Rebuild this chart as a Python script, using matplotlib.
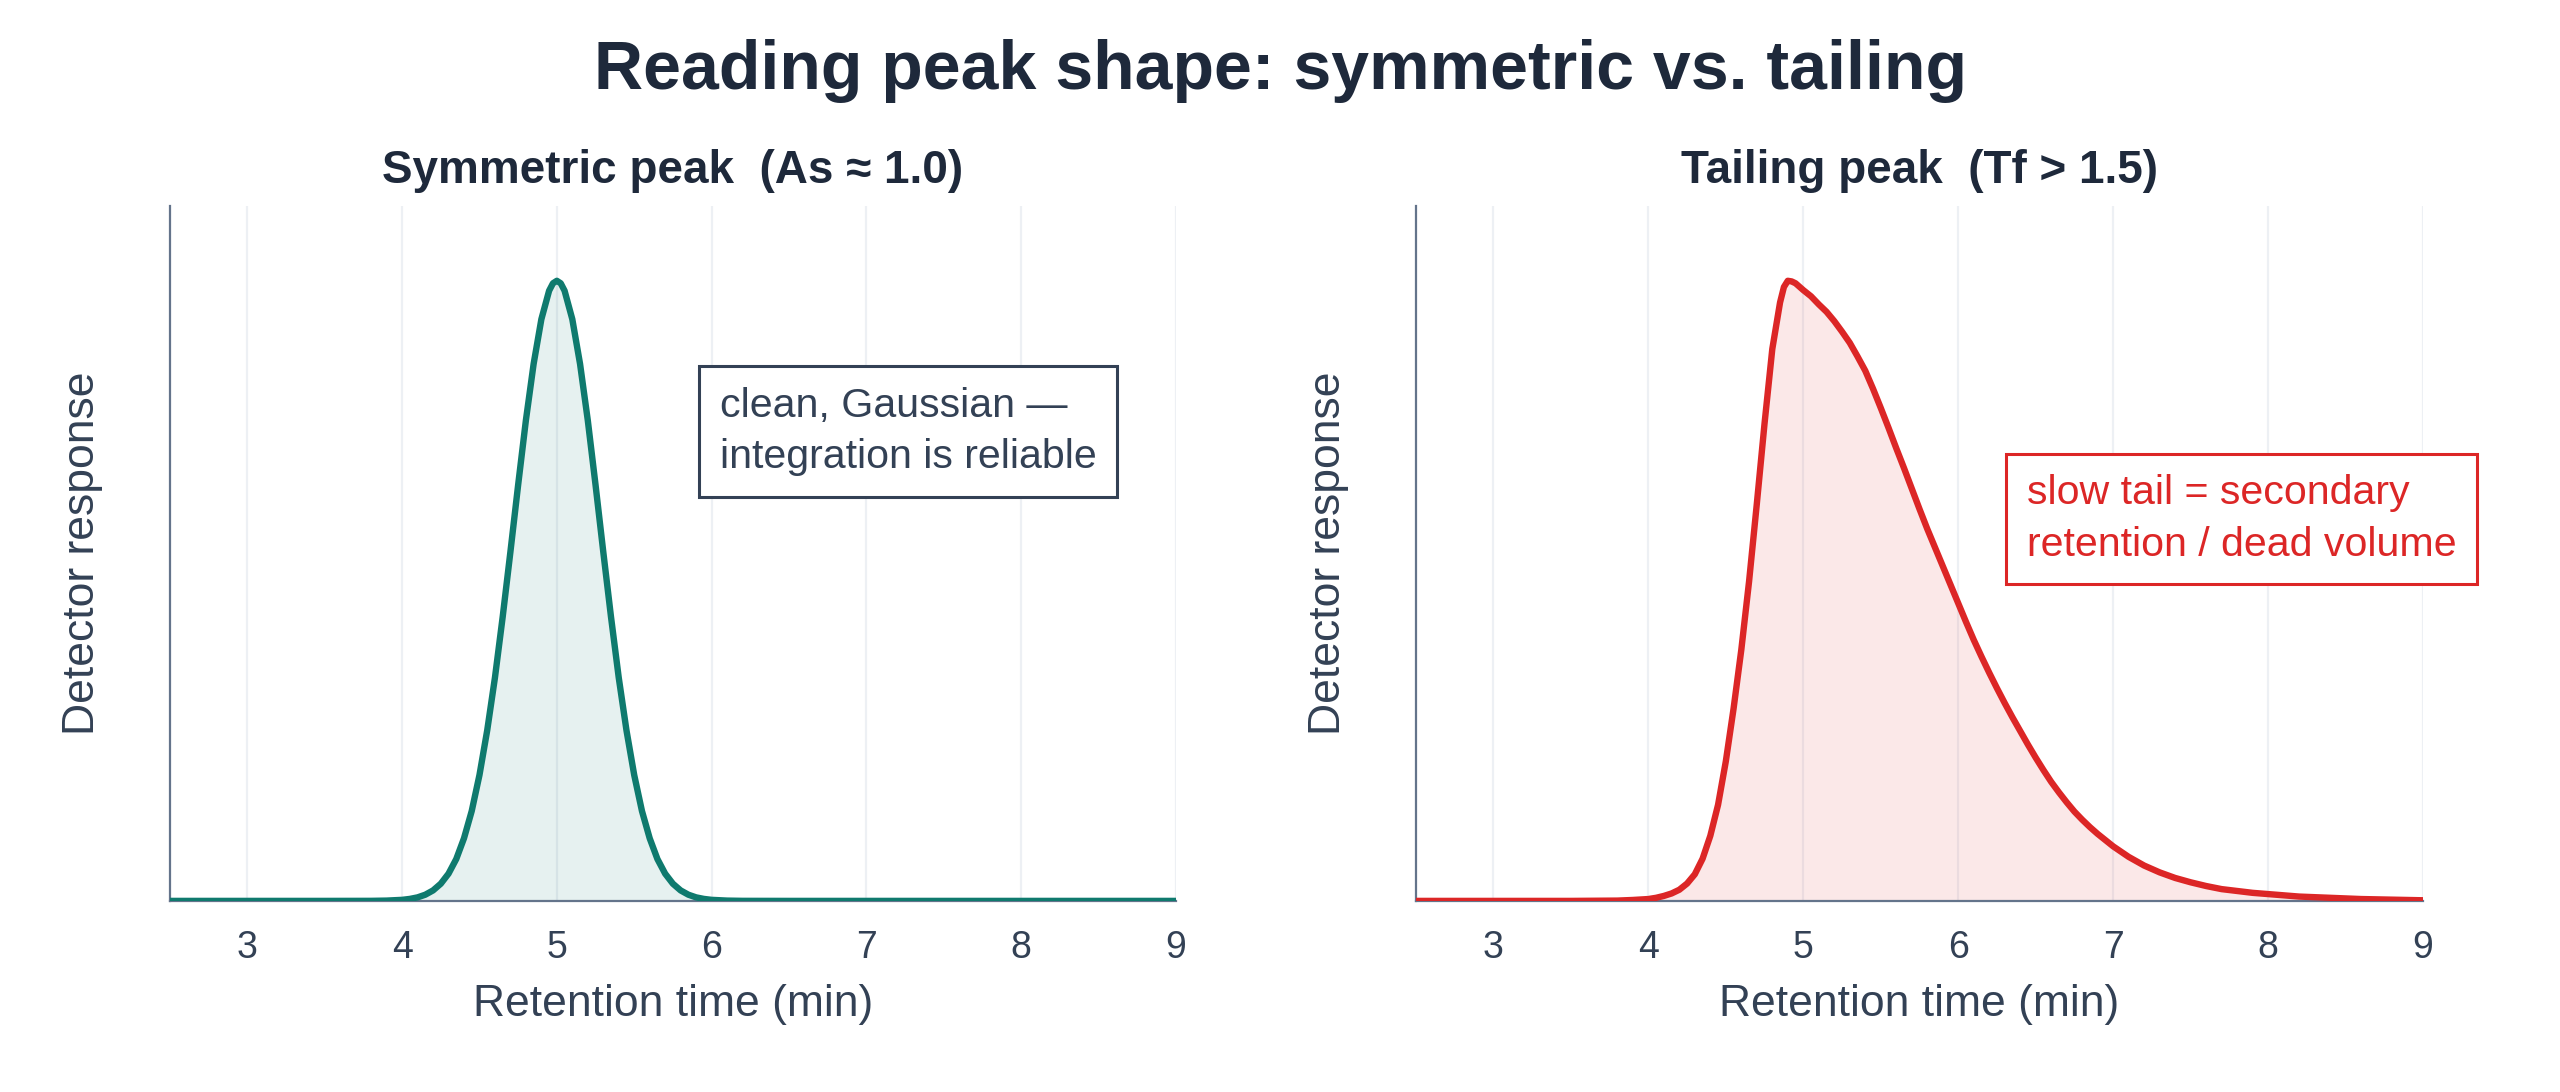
import matplotlib
matplotlib.use('Agg')
import matplotlib.pyplot as plt
import numpy as np

plt.rcParams['font.family'] = ['Liberation Sans', 'DejaVu Sans']

# symmetric peak (normalised detector response)
sym_time = [2.5, 3.0, 3.5, 3.8, 3.9, 4.0, 4.05, 4.1, 4.15, 4.2, 4.25, 4.3, 4.35, 4.4, 4.45,
            4.5, 4.55, 4.6, 4.65, 4.7, 4.75, 4.8, 4.85, 4.9, 4.95, 4.975, 5.0, 5.025,
            5.05, 5.1, 5.15, 5.2, 5.25, 5.3, 5.35, 5.4, 5.45, 5.5, 5.55, 5.6,
            5.65, 5.7, 5.75, 5.8, 5.85, 5.9, 5.95, 6.0, 6.1, 6.2, 6.5, 7.0, 8.0, 9.0]
sym_resp = [0.0, 0.0, 0.0, 0.0001, 0.0005, 0.0017, 0.0032, 0.0057, 0.010, 0.0169, 0.0277,
            0.0439, 0.0675, 0.101, 0.145, 0.203, 0.275, 0.360, 0.458, 0.563, 0.671,
            0.775, 0.866, 0.938, 0.984, 0.996, 1.0, 0.996,
            0.984, 0.938, 0.866, 0.775, 0.671, 0.563, 0.458, 0.360, 0.275, 0.203,
            0.145, 0.101, 0.0675, 0.0439, 0.0277, 0.0169, 0.010, 0.0057, 0.0032,
            0.0017, 0.0005, 0.0001, 0.0, 0.0, 0.0, 0.0]

# tailing peak
tail_time = [2.5, 3.0, 3.5, 3.8, 3.9, 4.0, 4.05, 4.1, 4.15, 4.2, 4.25, 4.3, 4.35, 4.4, 4.45,
             4.5, 4.55, 4.6, 4.65, 4.7, 4.75, 4.8, 4.85, 4.875, 4.9, 4.925, 4.95, 5.0,
             5.05, 5.1, 5.15, 5.2, 5.25, 5.3, 5.35, 5.4, 5.45, 5.5, 5.55, 5.6, 5.65,
             5.7, 5.75, 5.8, 5.85, 5.9, 5.95, 6.0, 6.05, 6.1, 6.15, 6.2, 6.25, 6.3,
             6.35, 6.4, 6.45, 6.5, 6.55, 6.6, 6.65, 6.7, 6.75, 6.8, 6.85, 6.9, 6.95,
             7.0, 7.1, 7.2, 7.3, 7.4, 7.5, 7.6, 7.7, 7.8, 7.9, 8.0, 8.2, 8.4, 8.6, 8.8, 9.0]
tail_resp = [0.0, 0.0, 0.0, 0.0005, 0.0015, 0.003, 0.005, 0.008, 0.012, 0.018, 0.028,
             0.043, 0.068, 0.105, 0.155, 0.225, 0.31, 0.405, 0.515, 0.64, 0.77,
             0.89, 0.965, 0.99, 1.0, 0.999, 0.996, 0.985,
             0.975, 0.962, 0.95, 0.935, 0.918, 0.90, 0.878, 0.855, 0.826, 0.795,
             0.763, 0.73, 0.698, 0.665, 0.632, 0.60, 0.57, 0.54, 0.51, 0.48, 0.45,
             0.421, 0.394, 0.368, 0.343, 0.319, 0.296, 0.274, 0.252, 0.231, 0.211, 0.192,
             0.175, 0.159, 0.144, 0.131, 0.119, 0.108, 0.098,
             0.088, 0.071, 0.057, 0.046, 0.037, 0.030, 0.024, 0.019, 0.016, 0.013,
             0.011, 0.007, 0.005, 0.003, 0.002, 0.001]

teal = '#0f7a6e'
red = '#dc2626'
slate = '#334155'
dark = '#1e293b'

fig = plt.figure(figsize=(12.8, 5.46), dpi=200)
ax1 = fig.add_axes([0.0664, 0.175, 0.3929, 0.636])
ax2 = fig.add_axes([0.5531, 0.175, 0.3934, 0.636])

panels = [
    (ax1, sym_time, sym_resp, teal, 'Symmetric peak  (As \u2248 1.0)'),
    (ax2, tail_time, tail_resp, red, 'Tailing peak  (Tf > 1.5)'),
]

for ax, t, r, col, title in panels:
    ax.fill_between(t, r, 0, color=col, alpha=0.10, linewidth=0)
    ax.plot(t, r, color=col, linewidth=2.3, solid_joinstyle='round', zorder=3)
    ax.set_xlim(2.5, 9)
    ax.set_ylim(0, 1.12)
    ax.set_xticks([3, 4, 5, 6, 7, 8, 9])
    ax.set_yticks([])
    ax.grid(axis='x', color='#edf0f4', linewidth=0.8)
    ax.set_axisbelow(True)
    for s in ['top', 'right']:
        ax.spines[s].set_visible(False)
    for s in ['left', 'bottom']:
        ax.spines[s].set_color('#64748b')
        ax.spines[s].set_linewidth(0.8)
    ax.tick_params(axis='x', length=0, pad=10.5, labelsize=13.5, labelcolor=slate)
    ax.set_xlabel('Retention time (min)', fontsize=16, color=slate, labelpad=6.5)
    ax.set_ylabel('Detector response', fontsize=16, color=slate, labelpad=24)
    ax.set_title(title, fontsize=16.5, fontweight='bold', color=dark, pad=8.5)

ax1.text(0.734, 0.676, 'clean, Gaussian \u2014\nintegration is reliable',
         transform=ax1.transAxes, ha='center', va='center', multialignment='left',
         fontsize=14.8, color=slate, linespacing=1.45,
         bbox=dict(boxstyle='square,pad=0.5', facecolor='white', edgecolor=slate, linewidth=1.1))

ax2.text(0.820, 0.550, 'slow tail = secondary\nretention / dead volume',
         transform=ax2.transAxes, ha='center', va='center', multialignment='left',
         fontsize=14.8, color=red, linespacing=1.45, clip_on=False,
         bbox=dict(boxstyle='square,pad=0.5', facecolor='white', edgecolor=red, linewidth=1.1))

fig.suptitle('Reading peak shape: symmetric vs. tailing', fontsize=24.5, fontweight='bold',
             color=dark, y=0.935, va='center')

fig.savefig('out.png', dpi=200, facecolor='white')
